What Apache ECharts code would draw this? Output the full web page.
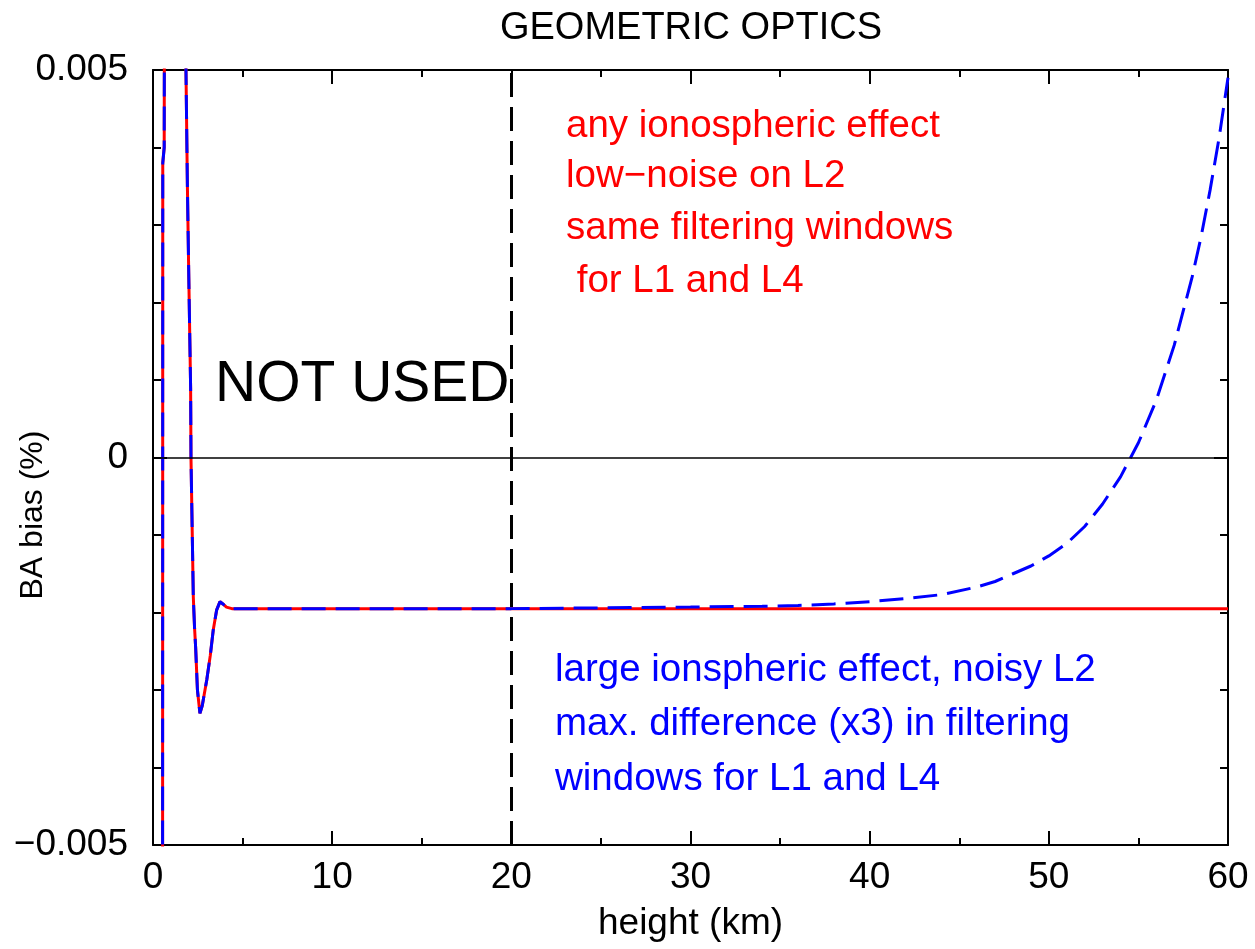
<!DOCTYPE html>
<html>
<head>
<meta charset="utf-8">
<script src="https://cdn.jsdelivr.net/npm/echarts@6/dist/echarts.min.js"></script>
<style>
html,body{margin:0;padding:0;background:#fff;}
#chart{width:1255px;height:949px;}
</style>
</head>
<body>
<div id="chart"></div>
<script>
// Shared oscillating head (both cases identical), height km / BA bias
var headHeights = [0.45, 0.53, 0.545, 0.625, 0.64, 0.75, 1.72, 1.84, 1.92, 2.0, 2.1, 2.12, 2.19, 2.25, 2.32, 2.38, 2.48, 2.62, 2.75, 3.0, 3.2, 3.36, 3.55, 3.74, 3.9, 4.1, 4.4, 5.0];
var headBias    = [-0.03, -0.01, 0.0038, 0.0040, 0.006, 0.03, 0.03, 0.005, 0.0035, 0.0023, 0.0009, 0.0, -0.00097, -0.0018, -0.0022, -0.00245, -0.0030, -0.0033, -0.0032, -0.00287, -0.00255, -0.00223, -0.00197, -0.00186, -0.00189, -0.00193, -0.00195, -0.00195];

// red: low-noise case tail
var redHeights = [5, 60];
var redBias    = [-0.00195, -0.00195];

// blue: large ionospheric effect tail
var blueHeights = [5, 20, 25, 30, 34, 36, 38, 40, 42, 44, 46, 47, 48, 49, 50, 51, 52, 53, 54, 55, 56, 57, 58, 58.5, 59, 59.5, 60];
var blueBias    = [-0.00195, -0.00195, -0.00194, -0.00193, -0.00192, -0.00191, -0.00189, -0.00186, -0.00182, -0.00177, -0.00167, -0.00160, -0.00150, -0.00140, -0.00127, -0.00111, -0.00089, -0.00060, -0.00025, 0.00019, 0.00074, 0.00145, 0.00233, 0.00285, 0.00345, 0.00412, 0.00490];

var xTicks = [0, 10, 20, 30, 40, 50, 60];
var yTicks = [-0.005, 0, 0.005];
var cutHeight = 20;

var redTexts = ['any ionospheric effect', 'low\u2212noise on L2', 'same filtering windows', ' for L1 and L4'];
var blueTexts = ['large ionspheric effect, noisy L2', 'max. difference (x3) in filtering', 'windows for L1 and L4'];

function pairs(xs, ys) { return xs.map(function (x, i) { return [x, ys[i]]; }); }
var redData = pairs(headHeights, headBias).concat(pairs(redHeights, redBias));
var blueData = pairs(headHeights, headBias).concat(pairs(blueHeights, blueBias));

var FONT = '"Liberation Sans", Arial, Helvetica, sans-serif';
var chart = echarts.init(document.getElementById('chart'));

function xAxisCfg(pos, show) {
  return {
    type: 'value', position: pos, min: xTicks[0], max: xTicks[xTicks.length - 1], interval: 10,
    axisLine: { show: true, onZero: false, lineStyle: { color: '#000', width: 2 } },
    axisTick: { show: true, inside: true, length: 14, lineStyle: { color: '#000', width: 2 } },
    minorTick: { show: true, splitNumber: 2, length: 7, lineStyle: { color: '#000', width: 2 } },
    splitLine: { show: false },
    axisLabel: { show: show, color: '#000', fontSize: 37, fontFamily: FONT, margin: 14 },
    name: show ? 'height (km)' : '', nameLocation: 'middle', nameGap: 60,
    nameTextStyle: { color: '#000', fontSize: 37, fontFamily: FONT }
  };
}
function yAxisCfg(pos, show) {
  return {
    type: 'value', position: pos, min: yTicks[0], max: yTicks[yTicks.length - 1], interval: 0.005,
    axisLine: { show: true, onZero: false, lineStyle: { color: '#000', width: 2 } },
    axisTick: { show: true, inside: true, length: 14, lineStyle: { color: '#000', width: 2 } },
    minorTick: { show: true, splitNumber: 5, length: 8, lineStyle: { color: '#000', width: 2 } },
    splitLine: { show: false },
    axisLabel: {
      show: show, color: '#000', fontSize: 37, fontFamily: FONT, margin: 25,
      formatter: function (v) {
        if (Math.abs(v) < 1e-12) return '0';
        return (v < 0 ? '\u2212' : '') + Math.abs(v).toFixed(3);
      }
    }
  };
}

var graphics = [];
graphics.push({ type: 'text', x: 691, y: 29, style: { text: 'GEOMETRIC OPTICS', fill: '#000', fontSize: 38, fontFamily: FONT, align: 'center', verticalAlign: 'middle' } });
graphics.push({ type: 'text', x: 33, y: 515, rotation: Math.PI / 2, style: { text: 'BA bias (%)', fill: '#000', fontSize: 32, fontFamily: FONT, align: 'center', verticalAlign: 'middle' } });
graphics.push({ type: 'text', x: 215, y: 385, style: { text: 'NOT USED', fill: '#000', fontSize: 57, fontFamily: FONT, align: 'left', verticalAlign: 'middle' } });
var redBase = [139, 189, 241, 294];
redTexts.forEach(function (t, i) {
  graphics.push({ type: 'text', x: 566, y: redBase[i] - 13, style: { text: t, fill: '#ff0000', fontSize: 38.5, fontFamily: FONT, align: 'left', verticalAlign: 'middle' } });
});
var blueBase = [683, 737, 792];
blueTexts.forEach(function (t, i) {
  graphics.push({ type: 'text', x: 555, y: blueBase[i] - 13, style: { text: t, fill: '#0000ff', fontSize: 38.5, fontFamily: FONT, align: 'left', verticalAlign: 'middle' } });
});

chart.setOption({
  animation: false,
  backgroundColor: '#fff',
  grid: { left: 153, right: 27, top: 70, bottom: 104, containLabel: false },
  xAxis: [xAxisCfg('bottom', true), xAxisCfg('top', false)],
  yAxis: [yAxisCfg('left', true), yAxisCfg('right', false)],
  series: [
    {
      type: 'line', name: 'low noise', data: redData, xAxisIndex: 0, yAxisIndex: 0,
      showSymbol: false, symbol: 'none', clip: true,
      lineStyle: { color: '#ff0000', width: 3 },
      markLine: {
        silent: true, symbol: 'none', label: { show: false },
        data: [
          { yAxis: 0, lineStyle: { color: '#000', width: 1.5, type: 'solid' } },
          { xAxis: cutHeight, lineStyle: { color: '#000', width: 3, type: [24, 10] } }
        ]
      }
    },
    {
      type: 'line', name: 'large iono', data: blueData, xAxisIndex: 0, yAxisIndex: 0,
      showSymbol: false, symbol: 'none', clip: true,
      lineStyle: { color: '#0000ff', width: 3, type: [24, 10] }
    }
  ],
  graphic: graphics
});
</script>
</body>
</html>
